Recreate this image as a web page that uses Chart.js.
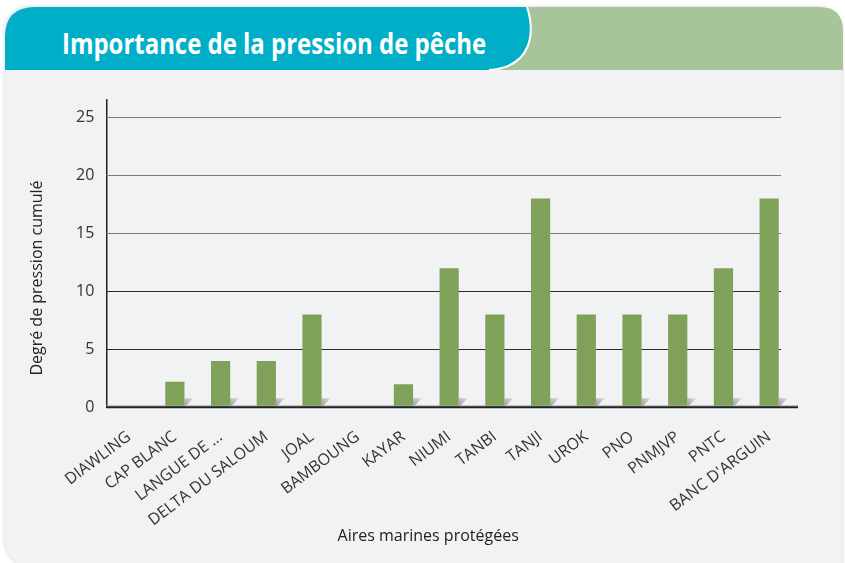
<!DOCTYPE html>
<html>
<head>
<meta charset="utf-8">
<script src="https://cdn.jsdelivr.net/npm/chart.js@4.4.1/dist/chart.umd.min.js"></script>
<style>
  html, body { margin: 0; padding: 0; background: #fff; }
  #wrap { position: relative; width: 845px; height: 563px; overflow: hidden; }
  #panel {
    position: absolute; left: 5px; top: 7px; width: 837px; height: 560px;
    background: #f1f2f4; border-radius: 24px 24px 0 26px;
    box-shadow: 0 0 4px rgba(0,0,0,0.18);
  }
  #header { position: absolute; left: 5px; top: 7px; }
  #title {
    position: absolute; left: 62px; top: 24px;
    font-family: "Open Sans", sans-serif;
    font-weight: bold; font-size: 28px; color: #fff;
    transform: scaleX(0.855); transform-origin: 0 0; white-space: nowrap;
  }
  canvas { position: absolute; left: 0; top: 0; }
</style>
</head>
<body>
<div id="wrap">
  <div id="panel"></div>
  <svg id="header" width="838" height="64" viewBox="0 0 838 64">
    <path d="M520 0 H814 Q838 0 838 24 V63 H480 Z" fill="#a8c49a"/>
    <path d="M30 0 H522 C530 25 528 60 484 63 H0 V30 Q0 0 30 0 Z" fill="#00afc7"/>
    <path d="M522 0 C530 25 528 60 484 63" fill="none" stroke="#fff" stroke-width="2"/>
  </svg>
  <div id="title">Importance de la pression de pêche</div>
  <canvas id="myChart" width="845" height="563"></canvas>
</div>
<script>
const categories = ['DIAWLING', 'CAP BLANC', 'LANGUE DE ...', 'DELTA DU SALOUM', 'JOAL', 'BAMBOUNG',
  'KAYAR', 'NIUMI', 'TANBI', 'TANJI', 'UROK', 'PNO', 'PNMJVP', 'PNTC', "BANC D'ARGUIN"];
const pressure = [0, 2.2, 4, 4, 8, 0, 2, 12, 8, 18, 8, 8, 8, 12, 18];
const yTicks = [0, 5, 10, 15, 20, 25];
const xTitle = 'Aires marines protégées';
const yTitle = 'Degré de pression cumulé';

const FONT = '"Open Sans", "DejaVu Sans", sans-serif';

// grid lines stop short of the right edge, base line runs a bit past it
const gridPlugin = {
  id: 'grid',
  beforeDatasetsDraw(chart) {
    const { ctx, chartArea, scales } = chart;
    ctx.save();
    yTicks.forEach(v => {
      if (v === 0) return;
      const y = Math.round(scales.y.getPixelForValue(v)) + 0.5;
      ctx.strokeStyle = v >= 15 ? '#7a7a7a' : '#2a2a2a';
      ctx.lineWidth = 1.2;
      ctx.beginPath();
      ctx.moveTo(chartArea.left, y);
      ctx.lineTo(chartArea.right - 11, y);
      ctx.stroke();
    });
    // bar shadows
    chart.getDatasetMeta(0).data.forEach((bar, i) => {
      if (!pressure[i]) return;
      const r = bar.x + bar.width / 2;
      const b = bar.base;
      const g = ctx.createLinearGradient(r, b, r + 8, b - 9);
      g.addColorStop(0, '#9a9a9a');
      g.addColorStop(1, '#d8d8d8');
      ctx.fillStyle = g;
      ctx.beginPath();
      ctx.moveTo(r, b - 9);
      ctx.lineTo(r + 9, b - 9);
      ctx.lineTo(r, b);
      ctx.closePath();
      ctx.fill();
    });
    ctx.restore();
  },
  afterDatasetsDraw(chart) {
    const { ctx, chartArea, scales } = chart;
    const y = scales.y.getPixelForValue(0);
    ctx.save();
    ctx.strokeStyle = '#aaa';
    ctx.lineWidth = 1;
    ctx.beginPath();
    ctx.moveTo(chartArea.left, y - 1.5);
    ctx.lineTo(chartArea.right + 6, y - 1.5);
    ctx.stroke();
    ctx.strokeStyle = '#222';
    ctx.lineWidth = 2;
    ctx.beginPath();
    ctx.moveTo(chartArea.left, y);
    ctx.lineTo(chartArea.right + 6, y);
    ctx.stroke();

    // axis titles
    ctx.fillStyle = '#222';
    ctx.font = '16px ' + FONT;
    ctx.textAlign = 'center';
    ctx.textBaseline = 'middle';
    ctx.fillText(xTitle, (chartArea.left + chartArea.right) / 2 - 21, 536);
    ctx.translate(37, 278);
    ctx.rotate(-Math.PI / 2);
    ctx.fillText(yTitle, 0, 0);
    ctx.restore();
  }
};

new Chart(document.getElementById('myChart'), {
  type: 'bar',
  data: {
    labels: categories,
    datasets: [{
      data: pressure,
      backgroundColor: '#80a15a',
      borderWidth: 0,
      categoryPercentage: 1,
      barPercentage: 0.42
    }]
  },
  plugins: [gridPlugin],
  options: {
    responsive: false,
    animation: false,
    layout: { padding: { left: 64, top: 100, right: 53, bottom: 21 } },
    plugins: {
      legend: { display: false },
      tooltip: { enabled: false }
    },
    scales: {
      x: {
        grid: { display: false },
        border: { display: false },
        ticks: {
          color: '#333',
          font: { family: FONT, size: 16 },
          minRotation: 37,
          maxRotation: 37,
          autoSkip: false,
          padding: 12
        }
      },
      y: {
        min: 0,
        max: 26.5,
        afterBuildTicks(scale) {
          scale.ticks = yTicks.map(v => ({ value: v }));
        },
        grid: { display: false, drawTicks: false },
        border: { display: true, color: '#222', width: 1.5 },
        ticks: {
          color: '#333',
          font: { family: FONT, size: 16 },
          padding: 12
        }
      }
    }
  }
});
</script>
</body>
</html>
